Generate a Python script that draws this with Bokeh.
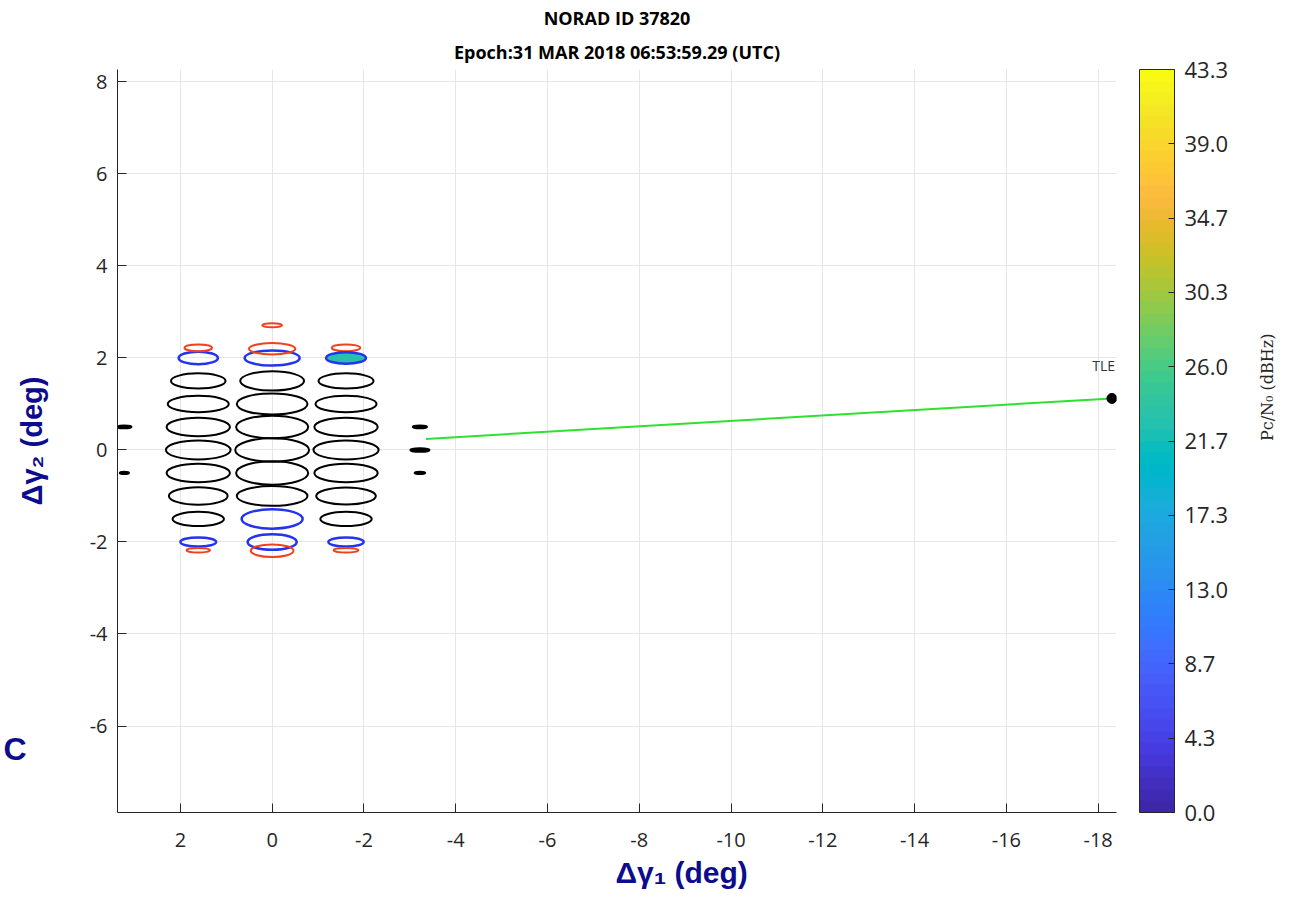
from bokeh.plotting import figure
from bokeh.models import (Range1d, LinearColorMapper, ColorBar, FixedTicker, Title,
                          LinearAxis, ColumnDataSource)
from bokeh.core.properties import value
from bokeh.embed import file_html
from bokeh.resources import INLINE
import math

# ---------------- data ----------------
x_ticks = [2, 0, -2, -4, -6, -8, -10, -12, -14, -16, -18]
x_tick_labels = ["2", "0", "-2", "-4", "-6", "-8", "-10", "-12", "-14", "-16", "-18"]
y_ticks = [-6, -4, -2, 0, 2, 4, 6, 8]
y_tick_labels = ["-6", "-4", "-2", "0", "2", "4", "6", "8"]

# black beam-footprint ellipses
black_x = [1.61] * 7 + [0.0] * 6 + [-1.61] * 7
black_y = [1.5, 1.0, 0.5, 0.0, -0.5, -1.0, -1.5,
           1.5, 1.0, 0.5, 0.0, -0.5, -1.0,
           1.5, 1.0, 0.5, 0.0, -0.5, -1.0, -1.5]
black_w = [1.19, 1.33, 1.38, 1.41, 1.38, 1.28, 1.12,
           1.39, 1.54, 1.57, 1.61, 1.57, 1.54,
           1.20, 1.33, 1.38, 1.42, 1.38, 1.30, 1.12]
black_h = [0.33, 0.355, 0.40, 0.41, 0.40, 0.38, 0.31,
           0.42, 0.46, 0.49, 0.51, 0.51, 0.43,
           0.33, 0.36, 0.40, 0.41, 0.40, 0.37, 0.31]

# blue ellipses
blue_x = [1.61, 1.61, 0.0, 0.0, 0.0, -1.61]
blue_y = [2.0, -2.0, 2.0, -1.5, -2.0, -2.0]
blue_w = [0.855, 0.78, 1.20, 1.33, 1.07, 0.77]
blue_h = [0.275, 0.20, 0.33, 0.42, 0.34, 0.20]

# red ellipses
red_x = [1.61, 1.61, 0.0, 0.0, 0.0, -1.61, -1.61]
red_y = [2.22, -2.18, 2.71, 2.20, -2.19, 2.22, -2.18]
red_w = [0.60, 0.51, 0.43, 1.01, 0.93, 0.62, 0.54]
red_h = [0.15, 0.10, 0.09, 0.25, 0.275, 0.15, 0.10]

# filled (detected) ellipse with its Pc/N0 value
fill_x = [-1.61]
fill_y = [2.0]
fill_w = [0.87]
fill_h = [0.25]
fill_pc = [23.0]

# small black side ellipses
side_x = [3.22, 3.22, -3.22, -3.22, -3.22]
side_y = [0.5, -0.5, 0.5, 0.0, -0.5]
side_w = [0.31, 0.20, 0.31, 0.42, 0.23]
side_h = [0.06, 0.05, 0.06, 0.08, 0.05]

# green track to TLE
track_x = [-3.35, -18.3]
track_y = [0.24, 1.12]
tle_x = [-18.3]
tle_y = [1.12]

cb_ticks = [0.0, 4.33, 8.66, 12.99, 17.32, 21.65, 25.98, 30.31, 34.64, 38.97, 43.3]
cb_labels = ["0.0", "4.3", "8.7", "13.0", "17.3", "21.7", "26.0", "30.3", "34.7", "39.0", "43.3"]

parula_rgb = [
    (0.2422, 0.1504, 0.6603), (0.2504, 0.1650, 0.7076), (0.2578, 0.1818, 0.7511),
    (0.2647, 0.1978, 0.7952), (0.2706, 0.2147, 0.8364), (0.2751, 0.2342, 0.8710),
    (0.2783, 0.2559, 0.8991), (0.2803, 0.2782, 0.9221), (0.2813, 0.3006, 0.9414),
    (0.2810, 0.3228, 0.9579), (0.2795, 0.3447, 0.9717), (0.2760, 0.3667, 0.9829),
    (0.2699, 0.3892, 0.9906), (0.2602, 0.4123, 0.9952), (0.2440, 0.4358, 0.9988),
    (0.2206, 0.4603, 0.9973), (0.1963, 0.4847, 0.9892), (0.1834, 0.5074, 0.9798),
    (0.1786, 0.5289, 0.9682), (0.1764, 0.5499, 0.9520), (0.1687, 0.5703, 0.9359),
    (0.1540, 0.5902, 0.9218), (0.1460, 0.6091, 0.9079), (0.1380, 0.6276, 0.8973),
    (0.1248, 0.6459, 0.8883), (0.1113, 0.6635, 0.8763), (0.0952, 0.6798, 0.8598),
    (0.0689, 0.6948, 0.8394), (0.0297, 0.7082, 0.8163), (0.0036, 0.7203, 0.7917),
    (0.0067, 0.7312, 0.7660), (0.0433, 0.7411, 0.7394), (0.0964, 0.7500, 0.7120),
    (0.1408, 0.7584, 0.6842), (0.1717, 0.7670, 0.6554), (0.1938, 0.7758, 0.6251),
    (0.2161, 0.7843, 0.5923), (0.2470, 0.7918, 0.5567), (0.2906, 0.7973, 0.5188),
    (0.3406, 0.8008, 0.4789), (0.3909, 0.8029, 0.4354), (0.4456, 0.8024, 0.3909),
    (0.5044, 0.7993, 0.3480), (0.5616, 0.7942, 0.3045), (0.6174, 0.7876, 0.2612),
    (0.6720, 0.7793, 0.2227), (0.7242, 0.7698, 0.1910), (0.7738, 0.7598, 0.1646),
    (0.8203, 0.7498, 0.1535), (0.8634, 0.7406, 0.1596), (0.9035, 0.7330, 0.1774),
    (0.9393, 0.7288, 0.2100), (0.9728, 0.7298, 0.2394), (0.9956, 0.7434, 0.2371),
    (0.9970, 0.7659, 0.2199), (0.9952, 0.7893, 0.2028), (0.9892, 0.8136, 0.1885),
    (0.9786, 0.8386, 0.1766), (0.9676, 0.8639, 0.1643), (0.9610, 0.8890, 0.1537),
    (0.9597, 0.9135, 0.1423), (0.9628, 0.9373, 0.1265), (0.9691, 0.9606, 0.1064),
    (0.9769, 0.9839, 0.0805)]
parula = ["#%02x%02x%02x" % (int(r * 255), int(g * 255), int(b * 255)) for r, g, b in parula_rgb]

# ---------------- figure ----------------
TXT = "#262626"
NAVY = "#0c0c8c"
TICK_FONT = "Open Sans"

p = figure(width=1293, height=901, output_backend="svg", toolbar_location=None,
           x_range=Range1d(3.37, -18.4), y_range=Range1d(-7.88, 8.27),
           min_border_left=117, min_border_right=177, min_border_top=68,
           min_border_bottom=89)
p.outline_line_color = None
p.background_fill_color = "white"
p.border_fill_color = "white"

for ax in (p.xaxis[0], p.yaxis[0]):
    ax.axis_line_color = TXT
    ax.major_tick_line_color = TXT
    ax.major_tick_in = 9
    ax.major_tick_out = 0
    ax.minor_tick_line_color = None
    ax.major_label_text_font = TICK_FONT
    ax.major_label_text_font_size = "20px"
    ax.major_label_text_color = TXT
p.xaxis[0].ticker = FixedTicker(ticks=x_ticks)
p.yaxis[0].ticker = FixedTicker(ticks=y_ticks)
p.xaxis[0].major_label_overrides = dict(zip(x_ticks, x_tick_labels))
p.yaxis[0].major_label_overrides = dict(zip(y_ticks, y_tick_labels))
p.xaxis[0].major_label_standoff = 20
p.yaxis[0].major_label_standoff = 10

# y-axis title
p.yaxis[0].axis_label = "Δγ₂ (deg)"
p.yaxis[0].axis_label_text_font = "Liberation Sans"
p.yaxis[0].axis_label_text_font_style = "bold"
p.yaxis[0].axis_label_text_font_size = "29px"
p.yaxis[0].axis_label_text_color = NAVY
p.yaxis[0].axis_label_standoff = 39

p.xgrid[0].ticker = FixedTicker(ticks=x_ticks)
p.ygrid[0].ticker = FixedTicker(ticks=y_ticks)
for g in (p.xgrid[0], p.ygrid[0]):
    g.grid_line_color = "#e6e6e6"
    g.grid_line_width = 1

mapper = LinearColorMapper(palette=parula, low=0.0, high=43.3)

# ellipses
p.ellipse(x=black_x, y=black_y, width=black_w, height=black_h,
          fill_color=None, line_color="black", line_width=2)
p.ellipse(x=blue_x, y=blue_y, width=blue_w, height=blue_h,
          fill_color=None, line_color="#2433ee", line_width=2.5)
p.ellipse(x=red_x, y=red_y, width=red_w, height=red_h,
          fill_color=None, line_color="#f2401c", line_width=2)
fsrc = ColumnDataSource(dict(x=fill_x, y=fill_y, w=fill_w, h=fill_h, pc=fill_pc))
p.ellipse(x="x", y="y", width="w", height="h", source=fsrc,
          fill_color={"field": "pc", "transform": mapper},
          line_color="#2433ee", line_width=2.5)
p.ellipse(x=side_x, y=side_y, width=side_w, height=side_h,
          fill_color="black", line_color="black", line_width=2)

p.line(track_x, track_y, line_color="#2fe02f", line_width=2)
p.scatter(tle_x, tle_y, size=10, fill_color="black", line_color="black")
p.text(x=[-18.12], y=[1.62], text=["TLE"], text_font=value("Open Sans"),
       text_font_size="14px", text_color="#333333", text_align="center",
       text_baseline="bottom")

# spacer between plot frame and colour bar
spacer = LinearAxis(ticker=FixedTicker(ticks=[]), axis_line_color=None,
                    major_tick_line_color=None, minor_tick_line_color=None,
                    major_tick_in=0, major_tick_out=0,
                    axis_label=".", axis_label_text_font_size="2px",
                    axis_label_text_color="white", axis_label_standoff=19)
p.add_layout(spacer, "right")

# colour bar
cb = ColorBar(color_mapper=mapper, ticker=FixedTicker(ticks=cb_ticks),
              major_label_overrides=dict(zip(cb_ticks, cb_labels)),
              width=35, padding=0, label_standoff=10,
              major_label_text_font=TICK_FONT, major_label_text_font_size="22px",
              major_label_text_color=TXT, major_tick_line_color=TXT,
              major_tick_in=6, major_tick_out=0, minor_tick_line_color=None,
              bar_line_color=TXT, bar_line_width=1, border_line_color=None,
              background_fill_color=None)
p.add_layout(cb, "right")

# colour-bar title as an outer right axis label
cb_axis = LinearAxis(ticker=FixedTicker(ticks=[]), axis_line_color=None,
                     major_tick_line_color=None, minor_tick_line_color=None,
                     axis_label="Pc/N₀ (dBHz)", axis_label_text_font="DejaVu Serif",
                     axis_label_text_font_style="normal",
                     axis_label_text_font_size="16px", axis_label_text_align="center",
                     axis_label_text_color=TXT, axis_label_standoff=36,
                     axis_label_orientation=math.pi / 2)
p.add_layout(cb_axis, "right")

# panel letter as an outer left axis tick label
c_axis = LinearAxis(ticker=FixedTicker(ticks=[-6.5]), major_label_overrides={-6.5: "C"},
                    axis_line_color=None, major_tick_line_color=None,
                    minor_tick_line_color=None, major_tick_in=0, major_tick_out=0,
                    major_label_standoff=-14, major_label_text_font="Liberation Sans",
                    major_label_text_font_style="bold", major_label_text_font_size="32px",
                    major_label_text_color=NAVY)
p.add_layout(c_axis, "left")

# titles
p.title.text = "NORAD ID 37820"
p.title.align = "center"
p.title.text_font = "Open Sans"
p.title.text_font_style = "bold"
p.title.text_font_size = "18px"
p.title.text_color = "black"
p.title.standoff = 6
p.add_layout(Title(text="Epoch:31 MAR 2018 06:53:59.29 (UTC)", align="center",
                   text_font="Open Sans", text_font_style="bold", text_font_size="18px",
                   text_color="black", standoff=11),
             "above")

# x-axis title
p.add_layout(Title(text="Δγ₁ (deg)", align="left", offset=498, text_font="Liberation Sans",
                   text_font_style="bold", text_font_size="30px", text_color=NAVY,
                   standoff=9),
             "below")

open("out.html", "w").write(file_html(p, INLINE))
